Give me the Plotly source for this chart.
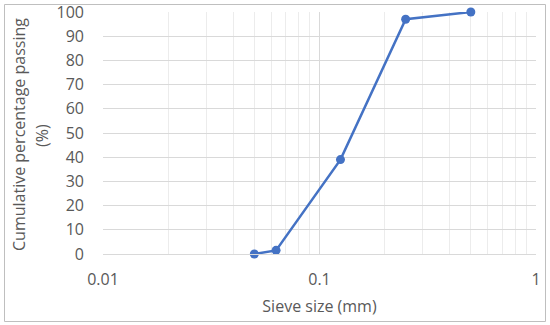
import plotly.graph_objects as go

sieve_mm = [0.05, 0.063, 0.125, 0.25, 0.5]
passing = [0, 1.5, 39, 97, 100]

W, H = 550, 325
ML, MR, MT, MB = 103, 14, 12, 71
pw, ph = W - ML - MR, H - MT - MB

font_fam = "Open Sans, Liberation Sans, sans-serif"
txt = "#595959"
fs = 16

fig = go.Figure(go.Scatter(
    x=sieve_mm, y=passing, mode="lines+markers",
    line=dict(color="#4472C4", width=2.5),
    marker=dict(color="#4472C4", size=9),
    cliponaxis=False,
))

def px2paper_x(p):
    return (p - ML) / pw

def px2paper_y(p):
    return (H - MB - p) / ph

fig.update_layout(
    width=W, height=H,
    margin=dict(l=ML, r=MR, t=MT, b=MB, autoexpand=False),
    paper_bgcolor="white", plot_bgcolor="white",
    showlegend=False,
    font=dict(family=font_fam, size=fs, color=txt),
    xaxis=dict(
        type="log", range=[-2, 0],
        tickvals=[0.01, 0.1, 1], ticktext=["0.01", "0.1", "1"],
        showgrid=True, gridcolor="#D9D9D9", gridwidth=1,
        minor=dict(showgrid=True, gridcolor="#ECECEC", gridwidth=1, dtick="D1"),
        showline=True, linecolor="#D9D9D9", linewidth=1, mirror=False,
        zeroline=False, ticks="", ticklabelstandoff=11, automargin=False,
        title=dict(text="Sieve size (mm)", standoff=11, font=dict(size=fs, color=txt)),
        tickfont=dict(size=fs, color=txt),
    ),
    yaxis=dict(
        range=[0, 100], dtick=10,
        showgrid=True, gridcolor="#D9D9D9", gridwidth=1,
        showline=False, zeroline=False, ticks="",
        ticklabelstandoff=18, automargin=False,
        tickfont=dict(size=fs, color=txt),
    ),
    annotations=[
        dict(text="Cumulative percentage passing", xref="paper", yref="paper",
             x=px2paper_x(19), y=px2paper_y(135), xanchor="center", yanchor="middle",
             textangle=-90, showarrow=False, font=dict(size=fs, color=txt)),
        dict(text="(%)", xref="paper", yref="paper",
             x=px2paper_x(42), y=px2paper_y(135), xanchor="center", yanchor="middle",
             textangle=-90, showarrow=False, font=dict(size=fs, color=txt)),
    ],
    shapes=[dict(
        type="rect", xref="paper", yref="paper",
        x0=px2paper_x(4.5), x1=px2paper_x(545.5),
        y0=px2paper_y(321.5), y1=px2paper_y(4.5),
        line=dict(color="#BFBFBF", width=1), layer="below",
    )],
)

fig.write_html("out.html", config={"displayModeBar": False, "staticPlot": True},
               post_script="document.body.style.margin='0';document.body.style.overflow='hidden';")
